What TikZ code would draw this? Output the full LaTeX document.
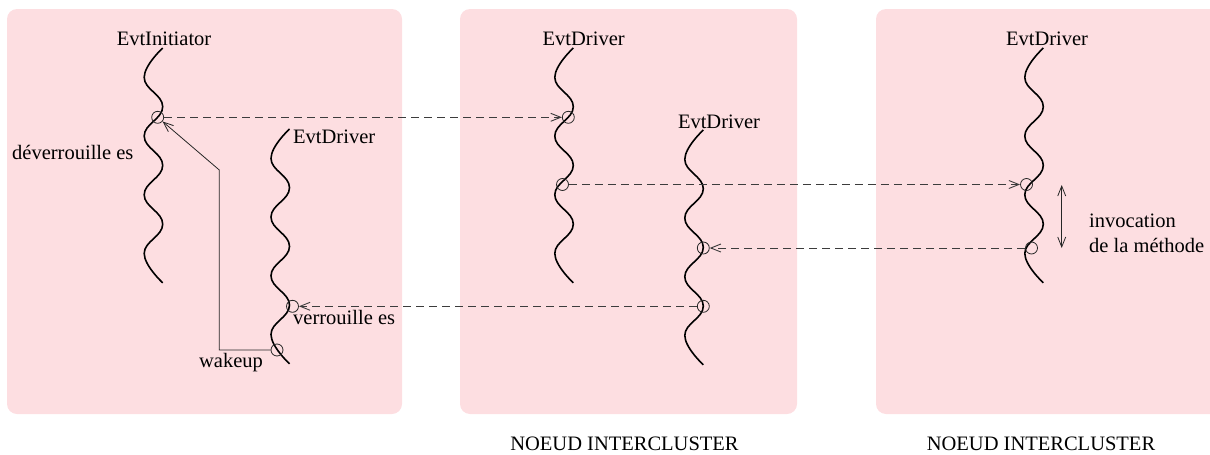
\documentclass[tikz,border=0pt]{standalone}
\usepackage{fontspec}
\setmainfont{Liberation Serif}
\usetikzlibrary{arrows.meta}
\definecolor{panelpink}{RGB}{253,222,225}
\definecolor{dashgrey}{RGB}{60,60,60}
\tikzset{
  panel/.style={fill=panelpink, draw=none, rounded corners=10pt},
  waveline/.style={line width=1.6pt, black},
  evt/.style={circle, draw=black!85, line width=0.8pt, minimum size=12pt, inner sep=0pt},
  msg/.style={dashed, dash pattern=on 8pt off 5pt, line width=0.9pt, draw=dashgrey, -{Straight Barb[length=10pt,width=8pt]}},
  wake/.style={line width=0.8pt, draw=black!85, -{Straight Barb[length=10pt,width=8pt]}},
  dbl/.style={line width=0.8pt, draw=black!85, {Straight Barb[length=10pt,width=8pt]}-{Straight Barb[length=10pt,width=8pt]}},
  lbl/.style={inner sep=0pt, font=\fontsize{20.5}{25}\selectfont},
}
\newcommand{\wavy}[2]{\draw[waveline] plot[smooth, tension=0.75, variable=\t, samples at={0,...,8}] ({#1-18.5*mod(\t,2)},{#2+29.35*\t});}
\begin{document}
\begin{tikzpicture}[x=1pt, y=-1pt]
\useasboundingbox (0,0) rectangle (1210,455);
% panels
\begin{scope}
\clip (0,0) rectangle (1210,455);
\fill[panel] (7,9) rectangle (402,414);
\fill[panel] (460,9) rectangle (797,414);
\fill[panel] (876,9) rectangle (1230,414);
\end{scope}
% wavy threads
\wavy{162.7}{48}
\wavy{289.5}{129}
\wavy{573.3}{48}
\wavy{703.3}{130}
\wavy{1043.3}{48}
% labels
\node[lbl, anchor=base] (tA) at (164,45) {EvtInitiator};
\node[lbl, anchor=base west] (tB) at (293,143) {EvtDriver};
\node[lbl, anchor=base] (tC) at (583.7,45) {EvtDriver};
\node[lbl, anchor=base] (tD) at (719,128) {EvtDriver};
\node[lbl, anchor=base] (tE) at (1047,45) {EvtDriver};
\node[lbl, anchor=base west] (tdev) at (12,159) {déverrouille es};
\node[lbl, anchor=base west] (tver) at (293,324) {verrouille es};
\node[lbl, anchor=base] (twk) at (231,367) {wakeup};
\node[lbl, anchor=base west] (tinv) at (1089,227) {invocation};
\node[lbl, anchor=base west] (tmeth) at (1089,252) {de la méthode};
\node[lbl, anchor=base] (tn1) at (624.5,450) {NOEUD INTERCLUSTER};
\node[lbl, anchor=base] (tn2) at (1041,450) {NOEUD INTERCLUSTER};
% event circles
\node[evt] (a1) at (157.7,117.3) {};
\node[evt] (b1) at (292.5,306.3) {};
\node[evt] (b2) at (277,350) {};
\node[evt] (c1) at (568.3,117.3) {};
\node[evt] (c2) at (562.5,184.5) {};
\node[evt] (d1) at (703.3,248) {};
\node[evt] (d2) at (703.3,306.3) {};
\node[evt] (e1) at (1026.5,184.5) {};
\node[evt] (e2) at (1031.5,248) {};
% messages
\draw[msg] (a1) -- (c1);
\draw[msg] (c2) -- (e1);
\draw[msg] (e2) -- (d1);
\draw[msg] (d2) -- (b1);
% wakeup path
\coordinate (w1) at (219.3,350);
\coordinate (w2) at (219.3,170);
\draw[wake] (b2) -- (w1) -- (w2) -- (a1);
% invocation interval
\coordinate (i1) at (1061.7,185);
\coordinate (i2) at (1061.7,248);
\draw[dbl] (i1) -- (i2);
\end{tikzpicture}
\end{document}
